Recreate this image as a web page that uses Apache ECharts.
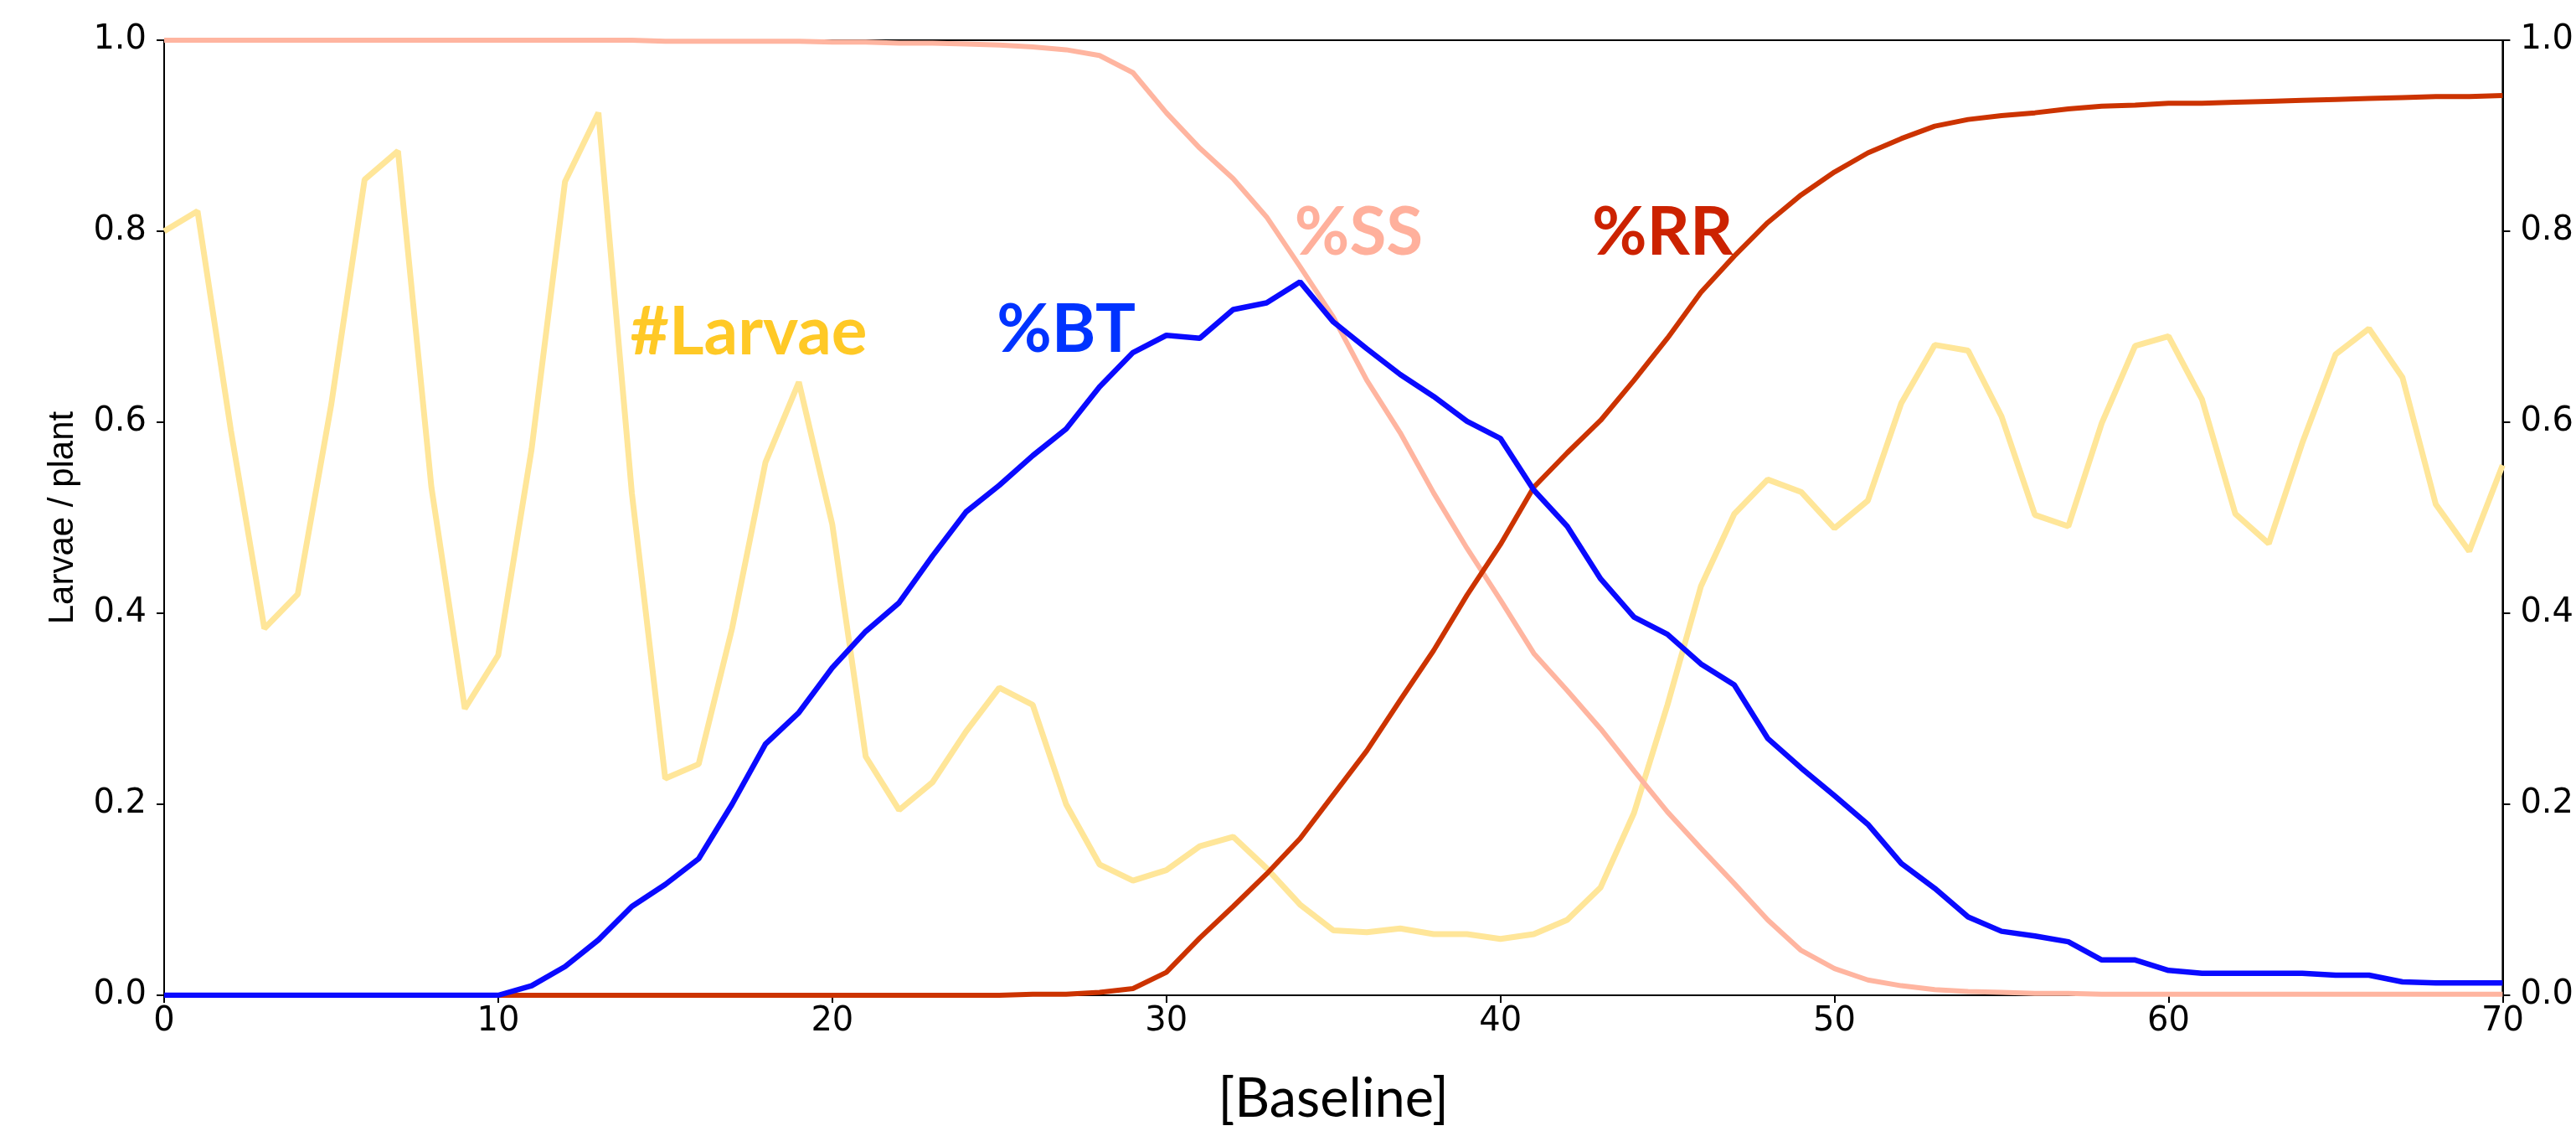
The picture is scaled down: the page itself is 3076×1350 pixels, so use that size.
<!DOCTYPE html>
<html>
<head>
<meta charset="utf-8">
<script src="https://cdn.jsdelivr.net/npm/echarts@6/dist/echarts.min.js"></script>
<style>
html,body{margin:0;padding:0;background:#fff;}
#chart{width:3076px;height:1350px;}
</style>
</head>
<body>
<div id="chart"></div>
<script>
// x positions (time steps 0..70)
const steps = [];
for (let i = 0; i <= 70; i++) steps.push(i);

const larvae = [0.800,0.821,0.591,0.384,0.420,0.618,0.854,0.884,0.532,0.300,
  0.356,0.572,0.852,0.924,0.526,0.227,0.242,0.384,0.558,0.642,
  0.493,0.250,0.194,0.223,0.276,0.322,0.304,0.200,0.137,0.120,
  0.131,0.156,0.166,0.133,0.095,0.068,0.066,0.070,0.064,0.064,
  0.059,0.064,0.079,0.113,0.191,0.304,0.428,0.504,0.540,0.527,
  0.489,0.518,0.620,0.681,0.675,0.606,0.503,0.491,0.599,0.680,
  0.690,0.624,0.504,0.473,0.578,0.671,0.698,0.647,0.514,0.465,0.555];

const pctBT = [0,0,0,0,0,0,0,0,0,0,
  0,0.010,0.030,0.058,0.093,0.116,0.143,0.200,0.263,0.296,
  0.343,0.381,0.411,0.460,0.506,0.534,0.565,0.593,0.637,0.673,
  0.691,0.688,0.718,0.725,0.747,0.705,0.677,0.650,0.627,0.601,
  0.583,0.529,0.491,0.436,0.396,0.378,0.347,0.325,0.269,0.238,
  0.209,0.179,0.138,0.112,0.082,0.067,0.062,0.056,0.037,0.037,
  0.026,0.023,0.023,0.023,0.023,0.021,0.021,0.014,0.013,0.013,0.013];

const pctSS = [1,1,1,1,1,1,1,1,1,1,
  1,1,1,1,1,0.999,0.999,0.999,0.999,0.999,
  0.998,0.998,0.997,0.997,0.996,0.995,0.993,0.990,0.984,0.966,
  0.924,0.887,0.855,0.815,0.763,0.710,0.644,0.589,0.526,0.468,
  0.414,0.358,0.319,0.279,0.235,0.192,0.154,0.117,0.079,0.047,
  0.028,0.016,0.010,0.006,0.004,0.003,0.002,0.002,0.001,0.001,
  0.001,0.001,0.001,0.001,0.001,0.001,0.001,0.001,0.001,0.001,0.001];

const pctRR = [0,0,0,0,0,0,0,0,0,0,
  0,0,0,0,0,0,0,0,0,0,
  0,0,0,0,0,0,0.001,0.001,0.003,0.007,
  0.024,0.060,0.093,0.127,0.164,0.210,0.256,0.309,0.361,0.419,
  0.472,0.532,0.568,0.602,0.644,0.688,0.736,0.774,0.809,0.838,
  0.862,0.882,0.897,0.910,0.917,0.921,0.924,0.928,0.931,0.932,
  0.934,0.934,0.935,0.936,0.937,0.938,0.939,0.940,0.941,0.941,0.942];

const xTicks = [0,10,20,30,40,50,60,70];
const yTicks = [0.0,0.2,0.4,0.6,0.8,1.0];

// in-plot series labels: text, data x, data y
const labelTexts = ['#Larvae','%BT','%SS','%RR'];
const labelX = [17.5, 27.0, 35.76, 44.85];
const labelY = [0.694, 0.696, 0.798, 0.798];
const labelColors = ['#FFC926','#0033FF','#FFB09C','#CC2200'];

function pairs(vals){ return steps.map((s,i)=>[s, vals[i]]); }

const chart = echarts.init(document.getElementById('chart'), null, {renderer:'canvas'});
const tickFont = {fontFamily:'DejaVu Sans', fontSize:40, color:'#000'};
const yAxisBase = {
  type:'value', min:0, max:1, interval:0.2,
  axisLine:{show:true, onZero:false, lineStyle:{color:'#000', width:2}},
  axisTick:{show:true, length:9, inside:false, lineStyle:{color:'#000', width:2}},
  axisLabel:Object.assign({margin:21, formatter:v=>v.toFixed(1)}, tickFont),
  splitLine:{show:false}
};
const option = {
  animation:false,
  backgroundColor:'#fff',
  grid:{left:196, right:76, top:48, bottom:160, show:true, borderColor:'#000', borderWidth:2, backgroundColor:'transparent'},
  xAxis:{
    type:'value', min:0, max:70, interval:10,
    axisLine:{show:true, onZero:false, lineStyle:{color:'#000', width:2}},
    axisTick:{show:true, length:9, lineStyle:{color:'#000', width:2}},
    axisLabel:Object.assign({margin:12, formatter:v=>String(v)}, tickFont),
    splitLine:{show:false},
    name:'[Baseline]', nameLocation:'middle', nameGap:92,
    nameTextStyle:{fontFamily:'Lato', fontSize:65, color:'#000'}
  },
  yAxis:[
    Object.assign({}, yAxisBase, {position:'left', name:'Larvae / plant', nameLocation:'middle', nameGap:100,
      nameTextStyle:{fontFamily:'Liberation Sans', fontSize:42, color:'#000'}}),
    Object.assign({}, yAxisBase, {position:'right'})
  ],
  series:[
    {type:'line', name:'Larvae', data:pairs(larvae), showSymbol:false, z:2,
     lineStyle:{color:'#FFE699', width:7}},
    {type:'line', name:'SS', data:pairs(pctSS), showSymbol:false, z:3,
     lineStyle:{color:'#FFB5A0', width:6}},
    {type:'line', name:'RR', data:pairs(pctRR), showSymbol:false, z:4, yAxisIndex:1,
     lineStyle:{color:'#CC3300', width:6}},
    {type:'line', name:'BT', data:pairs(pctBT), showSymbol:false, z:5,
     lineStyle:{color:'#0A0AFF', width:6.5}}
  ]
};
chart.setOption(option);

const g = labelTexts.map((t,i)=>{
  const p = chart.convertToPixel({gridIndex:0}, [labelX[i], labelY[i]]);
  return {type:'text', x:p[0], y:p[1], z:10,
    style:{text:t, fill:labelColors[i], font:'bold 80px Lato', textAlign:'center', textVerticalAlign:'middle'}};
});
chart.setOption({graphic:g});
</script>
</body>
</html>
